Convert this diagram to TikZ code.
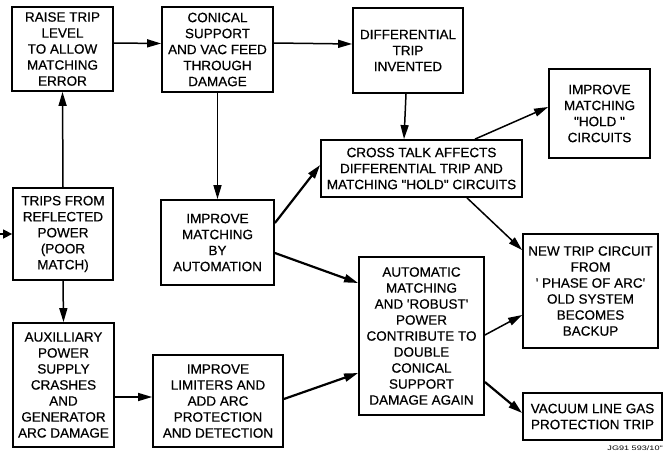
\documentclass[tikz,border=0pt]{standalone}
\usepackage{fontspec}
\setmainfont{Liberation Sans}
\newfontfamily\labelfont{Liberation Sans}[FakeBold=0.5]
\usetikzlibrary{arrows.meta}
\begin{document}
\begin{tikzpicture}[x=1pt,y=-1pt,
  box/.style={draw,line width=1.8pt,align=center,inner sep=0pt,
    font=\labelfont\fontsize{13.5}{16}\selectfont},
  link/.style={line width=1.5pt,-{Triangle[length=14pt,width=8pt]}},
  heavy/.style={link,line width=2.2pt}]
\useasboundingbox (0,0) rectangle (668,452);

% boxes: centre, width, height
\node[box,minimum width=101pt,minimum height=84pt] (raise) at (62.5,49)
  {RAISE TRIP\\LEVEL\\TO ALLOW\\MATCHING\\ERROR};
\node[box,minimum width=111pt,minimum height=85pt] (conical) at (217.5,49.5)
  {CONICAL\\SUPPORT\\AND VAC FEED\\THROUGH\\DAMAGE};
\node[box,minimum width=110pt,minimum height=85pt] (diff) at (408,50.5)
  {DIFFERENTIAL\\TRIP\\INVENTED};
\node[box,minimum width=101pt,minimum height=89pt] (hold) at (599.5,113.5)
  {IMPROVE\\MATCHING\\\textquotedbl HOLD \textquotedbl\\CIRCUITS};
\node[box,minimum width=201pt,minimum height=57pt] (cross) at (421.5,168.5)
  {CROSS TALK AFFECTS\\DIFFERENTIAL TRIP AND\\MATCHING \textquotedbl HOLD\textquotedbl{} CIRCUITS};
\node[box,minimum width=100pt,minimum height=92pt] (trips) at (63,234)
  {TRIPS FROM\\REFLECTED\\POWER\\(POOR\\MATCH)};
\node[box,minimum width=113pt,minimum height=85pt] (auto) at (217.5,242.5)
  {IMPROVE\\MATCHING\\BY\\AUTOMATION};
\node[box,minimum width=101pt,minimum height=124pt] (aux) at (63.5,385)
  {AUXILLIARY\\POWER\\SUPPLY\\CRASHES\\AND\\GENERATOR\\ARC DAMAGE};
\node[box,minimum width=130pt,minimum height=92pt] (lim) at (218,401)
  {IMPROVE\\LIMITERS AND\\ADD ARC\\PROTECTION\\AND DETECTION};
\node[box,minimum width=125pt,minimum height=158pt] (robust) at (421.5,336)
  {AUTOMATIC\\MATCHING\\AND 'ROBUST'\\POWER\\CONTRIBUTE TO\\DOUBLE\\CONICAL\\SUPPORT\\DAMAGE AGAIN};
\node[box,minimum width=135pt,minimum height=114pt] (newtrip) at (590.5,291)
  {NEW TRIP CIRCUIT\\FROM\\{'} PHASE OF ARC'\\OLD SYSTEM\\BECOMES\\BACKUP};
\node[box,minimum width=139pt,minimum height=47pt] (vac) at (592.5,416.5)
  {VACUUM LINE GAS\\PROTECTION TRIP};

\coordinate (in) at (0,234);
\node[anchor=south east,inner sep=0pt,font=\fontsize{6.5}{7}\selectfont] (ref) at (663,451)
  {\scalebox{1.4}[1]{JG91 593/10\textquotedbl}};

% connectors
\draw[link,-{Triangle[length=9pt,width=9pt]}] (in) -- (trips.west);
\draw[link] (trips.north) -- (raise.south);
\draw[link] (trips.south) -- (aux.north);
\draw[link] ([yshift=6pt]raise.east) -- ([yshift=6pt]conical.west);
\draw[link] ([yshift=6.5pt]conical.east) -- ([yshift=6.5pt]diff.west);
\draw[link] ([xshift=-2pt]diff.south) -- ([xshift=-17.5pt]cross.north);
\draw[link] ([xshift=53.5pt]cross.north) -- ([yshift=6.5pt]hold.west);
\draw[link] ([xshift=45.5pt]cross.south) -- ([yshift=41pt]newtrip.west);
\draw[link] (conical.south) -- (auto.north);
\draw[heavy] ([yshift=19.5pt]auto.east) -- ([yshift=3.5pt]cross.west);
\draw[heavy] ([yshift=-10.5pt]auto.east) -- ([yshift=53pt]robust.west);
\draw[link] ([yshift=-12pt]aux.east) -- ([yshift=4pt]lim.west);
\draw[heavy] ([yshift=2pt]lim.east) -- ([yshift=-37pt]robust.west);
\draw[link] ([yshift=1pt]robust.east) -- ([yshift=-24pt]newtrip.west);
\draw[heavy] ([yshift=-46pt]robust.east) -- ([yshift=3.5pt]vac.west);
\end{tikzpicture}
\end{document}
